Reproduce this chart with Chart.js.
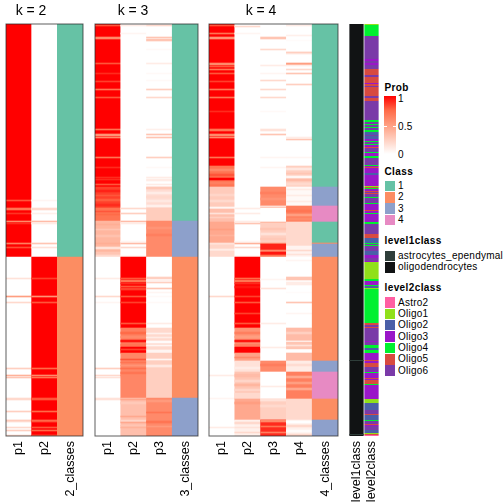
<!DOCTYPE html>
<html>
<head>
<meta charset="utf-8">
<script src="https://cdn.jsdelivr.net/npm/chart.js@4"></script>
<style>
html, body { margin: 0; background: #fff; }
#page { position: relative; width: 504px; height: 504px; overflow: hidden; font-family: "Liberation Sans", Arial, sans-serif; color: #000; }
canvas { position: absolute; top: 0; }
.t { position: absolute; white-space: nowrap; line-height: 12px; font-size: 10px; letter-spacing: .25px; }
.b { font-weight: bold; letter-spacing: .4px; }
.k { position: absolute; font-size: 14px; line-height: 16px; transform: translateX(-50%); white-space: nowrap; }
.s { position: absolute; width: 10.5px; height: 10.5px; left: 384.5px; }
</style>
</head>
<body>
<div id="page"></div>
<script>
// rows are counted top to bottom in sample order, 412 in total: [from, to, value]
const ROWS = 412;

const k2Labels = ['p1', 'p2', '2_classes'];
const k2p1 = [[0,233,1],[176,177,.8],[184,186,.7],[189,190,.88],[197,198,.6],[199,200,.9],[219,220,.65],[223,224,.82],
  [233,412,0],[254,255,.15],[272,273,.5],[278,279,.2],[344,345,.25],[351,352,.4],[353,354,.3],[374,376,.2],[387,388,.25],[396,397,.3],[397,398,.2],[403,404,.2],[406,407,.25],[411,412,.2]];
const k2p2 = [[0,233,0],[176,177,.05],[184,186,.2],[189,190,.08],[197,198,.35],[199,200,.1],[219,220,.3],[223,224,.15],
  [233,412,1],[254,255,.85],[272,273,.55],[278,279,.8],[344,345,.75],[351,352,.6],[353,354,.7],[374,376,.8],[387,388,.75],[396,397,.7],[397,398,.8],[403,404,.8],[406,407,.75],[411,412,.8]];
const k2Class = [[0,233,1],[233,412,2]];

const k3Labels = ['p1', 'p2', 'p3', '3_classes'];
const k3p1 = [[0,163,1],[1,2,.8],[13,15,.6],[39,40,.8],[49,50,.9],[57,58,.85],[65,66,.7],[73,74,.8],[105,106,.7],[110,112,.55],[113,114,.6],[133,134,.7],[143,144,.9],[153,154,.9],[155,156,.9],[160,161,.8],
  [163,184,.85],[166,168,.92],[171,172,.8],[175,177,.78],[180,182,.9],[184,197,.7],[187,188,.8],[190,191,.75],[197,233,.38],[200,201,.42],[205,206,.3],[211,213,.32],[219,220,.42],[223,225,.15],[228,231,.3],[231,233,.2],
  [233,412,0],[254,255,.1],[272,273,.2],[278,279,.05],[344,345,.25],[351,352,.2],[353,354,.15],[374,376,.15]];
const k3p2 = [[0,233,0],[1,2,.1],[9,10,.05],[184,185,.2],[189,190,.25],[197,198,.35],[199,200,.1],[217,218,.05],[219,220,.35],[223,224,.2],[232,233,.1],
  [233,304,1],[254,255,.8],[256,258,.7],[259,260,.9],[262,263,.8],[264,266,.85],[272,273,.8],[278,279,.85],[299,300,.8],
  [304,329,.65],[308,310,.75],[312,314,.6],[316,318,.95],[320,322,.7],[323,329,1],[325,326,.85],[329,374,.62],[335,336,.8],[338,339,.7],[341,342,.55],[344,345,.72],[348,350,.7],[351,352,.62],
  [374,412,.33],[375,376,.45],[378,380,.28],[392,393,.45],[396,398,.22],[398,399,.45],[401,402,.3],[403,404,.4]];
const k3p3 = [[0,163,0],[1,2,.2],[13,14,.3],[15,17,.3],[25,26,.03],[39,40,.1],[49,50,.03],[56,57,.03],[65,66,.25],[73,74,.2],[105,106,.08],[110,111,.3],[113,114,.3],[133,134,.25],[143,144,.03],[153,154,.1],[155,157,.1],[160,161,.1],
  [163,184,.18],[163,165,.28],[168,170,.1],[172,174,.2],[176,178,.12],[181,183,.08],[184,197,.26],[197,233,.6],[203,205,.55],[210,212,.65],
  [233,304,0],[253,255,.25],[256,257,.08],[258,259,.25],[264,265,.3],[268,269,.05],[272,273,.03],[278,279,.03],[299,300,.1],
  [304,326,.2],[309,310,.08],[313,314,.1],[317,319,.02],[321,322,.05],[326,329,.05],[329,374,.25],[335,336,.05],[341,343,.12],
  [374,412,.6],[376,378,.52],[388,389,.7],[397,399,.7],[402,403,.52]];
const k3Class = [[0,197,1],[197,233,3],[233,374,2],[374,412,3]];

const k4Labels = ['p1', 'p2', 'p3', 'p4', '4_classes'];
const k4p1 = [[0,142,1],[1,2,.8],[9,10,.7],[13,15,.55],[39,41,.6],[42,43,.8],[45,46,.7],[49,50,.8],[57,58,.85],[65,66,.7],[73,74,.7],[87,88,.9],[105,107,.7],[110,112,.6],[113,114,.6],[133,134,.7],
  [142,163,.7],[145,147,.6],[150,152,.8],[154,156,1],[158,160,.65],[163,183,.27],[170,172,.22],[176,178,.2],[183,185,.05],[185,198,.33],[189,190,.15],[193,194,.25],[198,219,.45],[205,206,.5],[211,212,.4],[219,221,.15],[221,225,.22],[225,227,.1],[227,233,.2],
  [233,412,0],[272,273,.2],[351,352,.1],[374,375,.05],[403,404,.1]];
const k4p2 = [[0,233,0],[2,3,.2],[9,10,.05],[184,185,.1],[189,190,.1],[197,198,.1],[199,200,.3],[217,218,.05],[219,220,.4],[223,224,.2],[232,233,.1],
  [233,304,1],[254,255,.75],[256,258,.7],[259,260,.9],[262,264,.95],[272,273,.85],[278,279,.8],[289,290,.85],[299,300,.8],
  [304,329,.55],[308,310,.65],[312,314,.5],[316,318,.95],[320,322,.65],[323,329,1],[329,337,.48],[333,334,.6],[337,348,.15],[343,345,.1],[348,375,.3],[350,353,.35],[356,358,.22],[360,362,.38],[365,367,.22],[369,375,.2],
  [375,396,.45],[378,380,.5],[396,412,.08],[398,400,.2],[403,404,.15],[408,409,.2]];
const k4p3 = [[0,163,0],[13,15,.3],[25,26,.2],[41,42,.1],[49,50,.05],[56,57,.2],[65,66,.2],[73,74,.2],[87,88,.03],[105,107,.15],[110,111,.3],[133,134,.05],[143,144,.05],
  [163,182,.6],[168,170,.65],[174,176,.55],[182,183,.05],[183,184,.4],[184,198,0],[198,199,.4],[199,219,.25],[204,206,.3],[209,211,.15],[214,216,.28],[219,220,.5],[220,226,.92],[226,228,.6],[228,231,.95],[231,233,.7],
  [233,337,0],[255,256,.05],[264,265,.15],[299,300,.1],[323,324,.1],[337,348,.6],[340,342,.66],[348,375,0],[362,363,.1],
  [375,396,.25],[375,377,.15],[381,383,.2],[396,412,.9],[396,398,.6],[402,403,.7],[408,409,.65]];
const k4p4 = [[0,142,0],[1,2,.1],[11,12,.08],[16,17,.02],[28,29,.3],[29,30,.15],[39,41,.5],[41,42,.1],[45,46,.2],[49,50,.3],[60,61,.25],[113,114,.1],[115,116,.3],[133,134,.05],
  [142,163,.25],[144,146,.12],[149,150,.3],[152,154,.05],[155,157,.35],[159,161,.2],[163,182,.03],[165,166,.1],[171,172,.1],[177,178,.1],[182,198,.65],[186,188,.7],[190,192,.5],[194,196,.6],[198,222,.2],[222,233,.06],[226,227,.2],[230,231,.15],
  [233,304,0],[236,237,.05],[253,256,.3],[258,261,.1],[268,269,.02],[278,279,.3],[289,290,.05],[304,317,.35],[308,310,.25],[317,318,0],[318,325,.3],[321,322,.15],[326,329,0],[329,337,.35],[337,348,.1],[340,342,.18],
  [348,375,.65],[352,354,.45],[358,360,.5],[364,366,.45],[375,396,.2],[396,412,.08],[397,399,0],[401,403,.2],[406,408,.02],[410,412,.2]];
const k4Class = [[0,163,1],[163,182,3],[182,198,4],[198,219,1],[219,220,2],[220,233,3],[233,337,2],[337,348,3],[348,375,4],[375,396,2],[396,412,3]];

const levelLabels = ['level1class', 'level2class'];
const level1Rows = [[0,412,'oligodendrocytes'],[336,337,'astrocytes_ependymal'],[410,411,'astrocytes_ependymal']];
const level2Rows = [[0,1,'Oligo1'],[1,12,'Oligo4'],[12,35,'Oligo6'],[35,37,'Oligo3'],[37,39,'Oligo6'],[39,41,'Oligo3'],[41,45,'Oligo6'],[45,51,'Oligo5'],[51,53,'Oligo6'],[53,59,'Oligo5'],[59,60,'Oligo3'],[60,62,'Oligo5'],[62,63,'Oligo6'],[63,72,'Oligo5'],[72,74,'Oligo6'],[74,77,'Oligo5'],[77,96,'Oligo6'],
  [96,98,'Oligo4'],[98,100,'Oligo6'],[100,101,'Oligo4'],[101,103,'Oligo6'],[103,104,'Oligo4'],[104,106,'Oligo6'],[106,108,'Oligo4'],[108,111,'Oligo2'],[111,112,'Oligo6'],[112,115,'Oligo2'],[115,117,'Oligo3'],[117,118,'Oligo4'],[118,120,'Oligo6'],[120,121,'Oligo4'],[121,123,'Oligo3'],[123,124,'Oligo5'],[124,128,'Oligo6'],[128,129,'Oligo4'],[129,132,'Oligo3'],[132,134,'Oligo4'],[134,141,'Oligo6'],[141,142,'Oligo4'],
  [142,143,'Oligo3'],[143,144,'Oligo5'],[144,149,'Oligo3'],[149,151,'Oligo2'],[151,162,'Oligo3'],[162,163,'Oligo1'],[163,164,'Oligo5'],[164,165,'Oligo4'],[165,167,'Oligo3'],[167,168,'Oligo5'],[168,169,'Oligo6'],[169,170,'Oligo5'],[170,173,'Oligo6'],[173,174,'Oligo4'],[174,179,'Oligo6'],[179,180,'Oligo4'],[180,186,'Oligo3'],[186,187,'Oligo5'],[187,189,'Oligo3'],[189,190,'Oligo4'],[190,198,'Oligo3'],[198,200,'Oligo4'],[200,210,'Oligo6'],[210,214,'Oligo5'],[214,219,'Oligo2'],[219,220,'Oligo4'],[220,221,'Oligo6'],[221,222,'Oligo4'],[222,223,'Oligo6'],[223,227,'Oligo6'],
  [227,231,'Oligo2'],[231,234,'Oligo3'],[234,237,'Oligo6'],[237,238,'Oligo3'],[238,255,'Oligo1'],[255,257,'Oligo4'],[257,261,'Oligo3'],[261,262,'Oligo4'],[262,264,'Oligo2'],[264,265,'Oligo1'],[265,299,'Oligo4'],[299,301,'Oligo5'],[301,303,'Oligo6'],[303,304,'Oligo5'],[304,317,'Oligo6'],[317,318,'Oligo3'],[318,321,'Oligo6'],[321,324,'Oligo4'],[324,326,'Oligo2'],[326,329,'Oligo4'],[329,336,'Oligo3'],[336,337,'Oligo5'],[337,339,'Oligo3'],[339,343,'Oligo5'],[343,347,'Oligo6'],[347,348,'Oligo3'],[348,349,'Oligo4'],[349,354,'Oligo3'],[354,355,'Oligo5'],[355,356,'Oligo3'],[356,360,'Oligo5'],[360,361,'Oligo4'],[361,375,'Oligo3'],[375,379,'Oligo1'],[379,386,'Oligo2'],[386,390,'Oligo6'],[390,391,'Oligo5'],[391,396,'Oligo2'],[396,397,'Oligo4'],[397,400,'Oligo6'],[400,401,'Oligo5'],[401,402,'Oligo3'],[402,406,'Oligo6'],[406,409,'Oligo2'],[409,410,'Oligo1'],[410,411,'Oligo5'],[411,412,'Astro2']];

const probTicks = ['1', '0.5', '0'];
const classNames = ['1', '2', '3', '4'];
const classColors = ['#66c2a5', '#fc8d62', '#8da0cb', '#e78ac3'];
const level1Names = ['astrocytes_ependymal', 'oligodendrocytes'];
const level1Colors = ['#2f3e3a', '#111314'];
const level2Names = ['Astro2', 'Oligo1', 'Oligo2', 'Oligo3', 'Oligo4', 'Oligo5', 'Oligo6'];
const level2Colors = ['#ff5fa2', '#90e01a', '#4a5fa8', '#9a16c8', '#00f030', '#d84a40', '#7a3aa8'];

const probStops = [[255,255,255], [255,207,192], [255,158,129], [255,107,72], [255,0,0]];

function probColor(v) {
    const p = v * (probStops.length - 1);
    const i = Math.min(Math.floor(p), probStops.length - 2);
    const c = probStops[i].map((a, n) => Math.round(a + (probStops[i + 1][n] - a) * (p - i)));
    return `rgb(${c[0]},${c[1]},${c[2]})`;
}
const classColor = v => classColors[v - 1];
const level1Color = v => level1Colors[level1Names.indexOf(v)];
const level2Color = v => level2Colors[level2Names.indexOf(v)];

const framePlugin = {
    id: 'frame',
    afterDraw(chart) {
        const a = chart.chartArea;
        const c = chart.ctx;
        c.save();
        c.strokeStyle = 'rgba(40,40,40,.75)';
        c.lineWidth = 1;
        c.strokeRect(a.left, a.top, a.width, a.height);
        c.restore();
    }
};

function addPanel(left, width, labels, columns, opts) {
    const canvas = document.createElement('canvas');
    canvas.width = width + 6;
    canvas.height = 504;
    canvas.style.left = (left - 3) + 'px';
    document.getElementById('page').appendChild(canvas);

    const points = [];
    const colors = [];
    columns.forEach((col, i) => {
        col.runs.forEach(r => {
            points.push({ x: labels[i], y: [r[0], r[1]] });
            colors.push(col.color(r[2]));
        });
    });

    new Chart(canvas.getContext('2d'), {
        type: 'bar',
        data: {
            labels: labels,
            datasets: [{
                data: points,
                backgroundColor: colors,
                borderWidth: 0,
                barPercentage: opts.bar || 1,
                categoryPercentage: 1
            }]
        },
        plugins: opts.frame === false ? [] : [framePlugin],
        options: {
            responsive: false,
            animation: false,
            layout: { padding: { top: 24, left: 3, right: 3, bottom: 0 } },
            plugins: { legend: { display: false }, tooltip: { enabled: false } },
            scales: {
                y: { type: 'linear', min: 0, max: ROWS, reverse: true, display: false },
                x: {
                    type: 'category',
                    offset: true,
                    grid: { display: false, drawTicks: false },
                    border: { display: false },
                    afterFit: s => { s.height = 68; s.paddingLeft = 0; s.paddingRight = 0; },
                    ticks: {
                        autoSkip: false,
                        minRotation: 90,
                        maxRotation: 90,
                        padding: 5,
                        color: '#000',
                        font: { family: '"Liberation Sans", Arial, sans-serif', size: 12.5 }
                    }
                }
            }
        }
    });
}

addPanel(5.5, 77, k2Labels, [
    { runs: k2p1, color: probColor }, { runs: k2p2, color: probColor }, { runs: k2Class, color: classColor }
], {});
addPanel(94.5, 103, k3Labels, [
    { runs: k3p1, color: probColor }, { runs: k3p2, color: probColor }, { runs: k3p3, color: probColor }, { runs: k3Class, color: classColor }
], {});
addPanel(209, 129, k4Labels, [
    { runs: k4p1, color: probColor }, { runs: k4p2, color: probColor }, { runs: k4p3, color: probColor }, { runs: k4p4, color: probColor }, { runs: k4Class, color: classColor }
], {});
addPanel(349, 30, levelLabels, [
    { runs: level1Rows, color: level1Color }, { runs: level2Rows, color: level2Color }
], { bar: 0.95, frame: false });

// titles and legends
const page = document.getElementById('page');
function el(cls, text, x, y, extra) {
    const d = document.createElement('div');
    d.className = cls;
    d.textContent = text;
    d.style.left = x + 'px';
    d.style.top = y + 'px';
    if (extra) d.style.cssText += extra;
    page.appendChild(d);
    return d;
}
el('k', 'k = 2', 31, 2);
el('k', 'k = 3', 133, 2);
el('k', 'k = 4', 261, 2);

el('t b', 'Prob', 384.5, 82);
el('s', '', 384, 96, 'width:12px;height:58px;background:linear-gradient(#f00,#ff6b48,#ff9e81,#ffcfc0,#fff);');
el('s', '', 384, 126, 'width:3px;height:1px;background:#fff;');
el('s', '', 393, 126, 'width:3px;height:1px;background:#fff;');
probTicks.forEach((t, i) => el('t', t, 398, 92.5 + i * 28));

function legendBlock(title, titleY, names, colors, firstY, step) {
    el('t b', title, 384.5, titleY);
    names.forEach((n, i) => {
        const y = firstY + i * step;
        el('s', '', 384.5, y - 5.25, `background:${colors[i]};`);
        el('t', n, 398, y - 6);
    });
}
legendBlock('Class', 166, classNames, classColors, 186, 11.3);
legendBlock('level1class', 235, level1Names, level1Colors, 256, 11.4);
legendBlock('level2class', 282, level2Names, level2Colors, 302.5, 11.35);
</script>
</body>
</html>
